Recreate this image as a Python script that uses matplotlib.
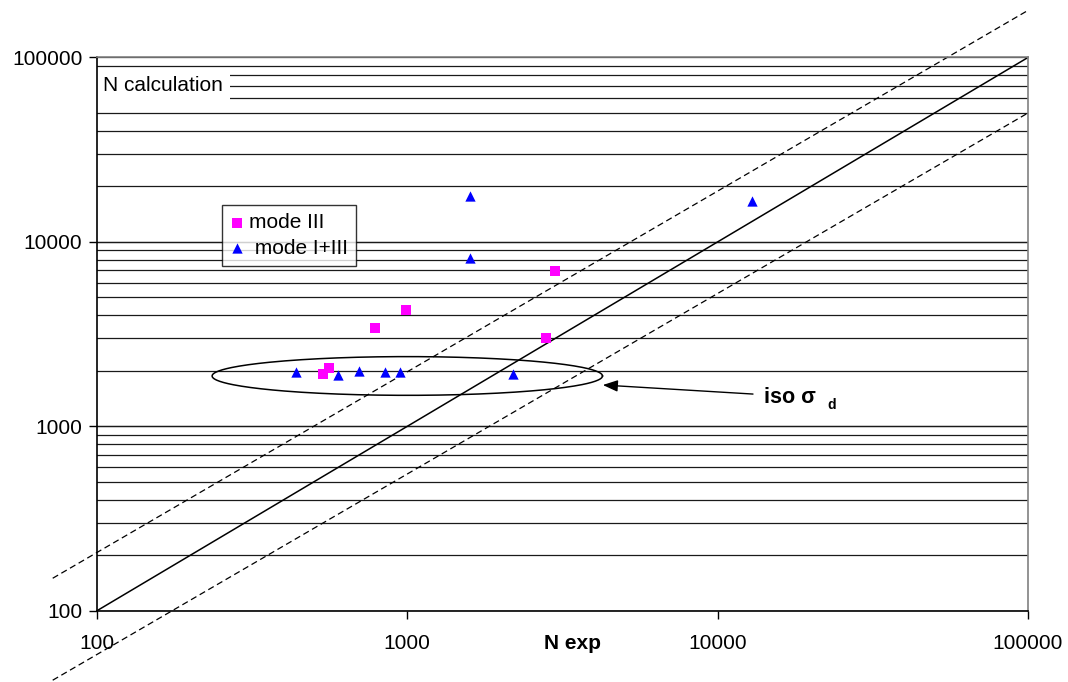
import numpy as np
import matplotlib
matplotlib.use("Agg")
import matplotlib.pyplot as plt

plt.rcParams['font.family'] = ['Liberation Sans', 'DejaVu Sans']

# data
mode3_x = [536, 558, 787, 990, 2790, 2990]
mode3_y = [1930, 2070, 3410, 4250, 3000, 6930]

mode13_x = [439, 598, 697, 848, 947, 2186, 1596, 1596, 12940]
mode13_y = [1965, 1888, 2000, 1977, 1977, 1932, 17650, 8150, 16700]

# reference lines (end points)
diag_x = [100, 100000]
diag_y = [100, 100000]
upper_x = [72, 100000]
upper_y = [150, 180000]
lower_x = [72, 100000]
lower_y = [42, 50000]

# ellipse around the iso sigma_d points (log10 centre and half axes in decades)
ell_cx, ell_cy = 3.0, 3.273
ell_a, ell_b = 0.629, 0.105

fig = plt.figure(figsize=(10.68, 6.82), dpi=100)
ax = fig.add_axes([0.0908, 0.1045, 0.8717, 0.8112])
ax.set_xscale('log')
ax.set_yscale('log')
ax.set_xlim(100, 100000)
ax.set_ylim(100, 100000)

# horizontal grid, major and minor
for dec in [100, 1000, 10000]:
    for k in range(1, 11):
        ax.axhline(dec * k, color='#1a1a1a', lw=0.9, zorder=0.5)

ax.plot(diag_x, diag_y, color='black', lw=1.1, clip_on=False, zorder=2)
ax.plot(upper_x, upper_y, color='black', lw=0.9, ls=(0, (5, 3)), clip_on=False, zorder=2)
ax.plot(lower_x, lower_y, color='black', lw=0.9, ls=(0, (5, 3)), clip_on=False, zorder=2)

ax.scatter(mode3_x, mode3_y, marker='s', s=45, color='#FF00FF', zorder=4,
           label='mode III', linewidths=0)
ax.scatter(mode13_x, mode13_y, marker='^', s=55, color='#0000FF', zorder=4,
           label=' mode I+III', linewidths=0)

t = np.linspace(0, 2 * np.pi, 300)
ax.plot(10 ** (ell_cx + ell_a * np.cos(t)), 10 ** (ell_cy + ell_b * np.sin(t)),
        color='black', lw=1.1, zorder=3)

ax.annotate('', xy=(4266, 1675), xytext=(13000, 1496),
            arrowprops=dict(arrowstyle='-|>,head_length=0.9,head_width=0.35',
                            color='black', lw=1.0, shrinkA=0, shrinkB=0))
ax.text(14130, 1442, 'iso σ', fontsize=15.5, fontweight='bold', va='center', ha='left')
ax.text(0.785, 0.372, 'd', transform=ax.transAxes, fontsize=10, fontweight='bold',
        va='center', ha='left')

# y-axis title sits inside the plot, on a white patch over the grid
ax.text(0.007, 0.950, 'N calculation', transform=ax.transAxes, fontsize=15,
        ha='left', va='center', zorder=2.2,
        bbox=dict(boxstyle='square,pad=0.3', facecolor='white', edgecolor='none'))

ax.set_xlabel('N exp', fontsize=15, fontweight='bold')
ax.xaxis.set_label_coords((573 - 97) / 931, -0.0585)
ax.xaxis.label.set_va('center')

ax.set_xticks([100, 1000, 10000, 100000])
ax.set_xticklabels(['100', '1000', '10000', '100000'])
ax.set_yticks([100, 1000, 10000, 100000])
ax.set_yticklabels(['100', '1000', '10000', '100000'])
ax.minorticks_off()
ax.tick_params(axis='x', length=6, width=1, pad=11, labelsize=15, direction='out')
ax.tick_params(axis='y', length=6, width=1, pad=4.5, labelsize=15, direction='out')

for s in ['left', 'bottom']:
    ax.spines[s].set_color('black')
    ax.spines[s].set_linewidth(1.2)
for s in ['top', 'right']:
    ax.spines[s].set_color('#808080')
    ax.spines[s].set_linewidth(1.2)

leg = ax.legend(loc='upper left', bbox_to_anchor=(222 / 1068, 1 - 205 / 682),
                bbox_transform=fig.transFigure, fontsize=15, frameon=True,
                fancybox=False, handlelength=0.6, handletextpad=0.3,
                borderpad=0.4, labelspacing=0.3, markerscale=1.0, borderaxespad=0)
leg.get_frame().set_edgecolor('black')
leg.get_frame().set_linewidth(1.0)

fig.savefig('out.png', dpi=100, facecolor='white')
